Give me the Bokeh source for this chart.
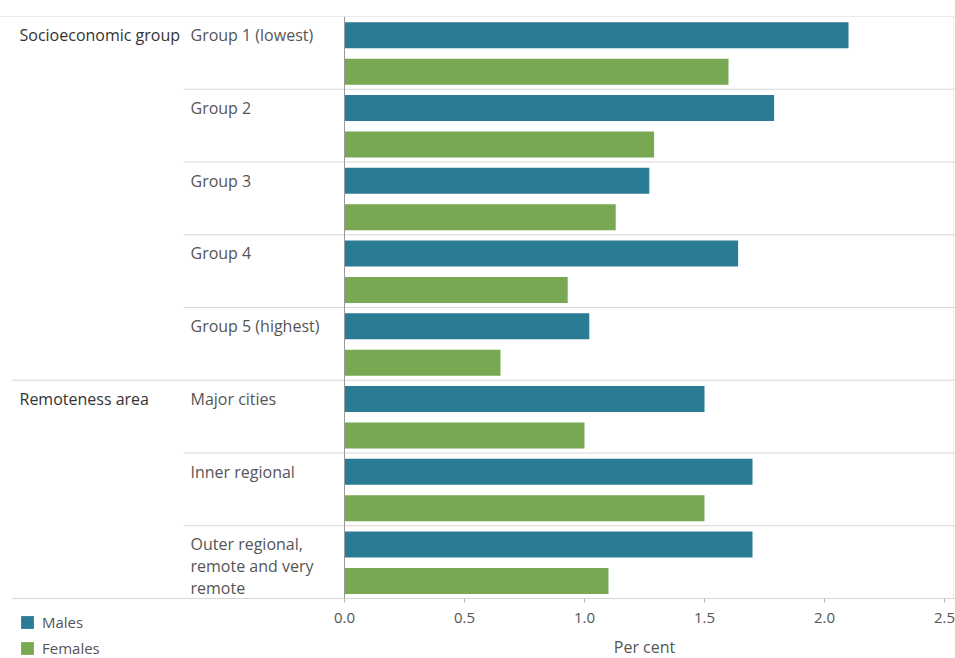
from bokeh.plotting import figure
from bokeh.models import Range1d, FixedTicker, NumeralTickFormatter, ColumnDataSource, Legend, LegendItem
from bokeh.embed import file_html
from bokeh.resources import INLINE
from bokeh.core.properties import value

# ---- data ----
sections = ["Socioeconomic group", "Remoteness area"]
section_start = [0, 5]
groups = ["Group 1 (lowest)", "Group 2", "Group 3", "Group 4", "Group 5 (highest)",
          "Major cities", "Inner regional", "Outer regional,\nremote and very\nremote"]
males = [2.10, 1.79, 1.27, 1.64, 1.02, 1.50, 1.70, 1.70]
females = [1.60, 1.29, 1.13, 0.93, 0.65, 1.00, 1.50, 1.10]
x_ticks = [0.0, 0.5, 1.0, 1.5, 2.0, 2.5]
x_max = 2.5

MALE_C = "#2a7b94"
FEMALE_C = "#79a852"
LINE_C = "#d6d6d6"
FONT = "Open Sans"

n = len(groups)
idx = list(range(n))
male_y = [i + 0.257 for i in idx]
female_y = [i + 0.76 for i in idx]
BAR_H = 0.357

# ---- layout constants (pixels) ----
W, H = 955, 658
TOP_B = 16
ROWS_BOTTOM = 598                  # pixel row where the last category ends
MAX_PX = 944                       # pixel column of the last tick (2.5)
ZERO_PX = 344                      # pixel column of value 0
SCALE = (MAX_PX - ZERO_PX) / x_max  # px per unit
ROW_PX = (ROWS_BOTTOM - TOP_B) / n
Y_BOTTOM = n + (H - ROWS_BOTTOM) / ROW_PX


def px(xp):
    """pixel column -> data x (for the label column left of zero)"""
    return (xp - ZERO_PX) / SCALE


p = figure(width=W, height=H, output_backend="svg", toolbar_location=None,
           x_range=Range1d(px(0), px(W)), y_range=Range1d(Y_BOTTOM, 0),
           y_axis_location=None, min_border_left=0, min_border_right=0,
           min_border_top=TOP_B, min_border_bottom=0)
p.outline_line_color = None
p.xgrid.visible = False
p.ygrid.visible = False

src = ColumnDataSource(dict(y_m=male_y, y_f=female_y, males=males, females=females))
rm = p.hbar(y="y_m", right="males", left=0, height=BAR_H, source=src,
            fill_color=MALE_C, line_color=None)
rf = p.hbar(y="y_f", right="females", left=0, height=BAR_H, source=src,
            fill_color=FEMALE_C, line_color=None)

# separators
right_end = px(W)
sep_full = [0, 5, n]
sep_grp = [i for i in range(1, n) if i not in section_start]
p.segment(x0=[px(0), px(12), px(12)], x1=[right_end] * 3, y0=sep_full, y1=sep_full,
          line_color=LINE_C, line_width=1)
p.segment(x0=[px(183)] * len(sep_grp), x1=[right_end] * len(sep_grp), y0=sep_grp, y1=sep_grp,
          line_color=LINE_C, line_width=1)
p.segment(x0=[0], x1=[0], y0=[0], y1=[n], line_color="#9a9a9a", line_width=1)
p.segment(x0=[px(953)], x1=[px(953)], y0=[0], y1=[n], line_color="#ececec", line_width=1)

# section labels
p.text(x=[px(19)] * len(sections), y=[male_y[s] for s in section_start], text=sections,
       text_font=value(FONT), text_font_size="16px", text_color="#333333",
       text_baseline="middle", text_align="left")
# group labels
single = [i for i in idx if "\n" not in groups[i]]
multi = [i for i in idx if "\n" in groups[i]]
p.text(x=[px(190)] * len(single), y=[male_y[i] for i in single], text=[groups[i] for i in single],
       text_font=value(FONT), text_font_size="16px", text_color="#555555",
       text_baseline="middle", text_align="left")
p.text(x=[px(190)] * len(multi), y=[male_y[i] for i in multi], text=[groups[i] for i in multi],
       text_font=value(FONT), text_font_size="16px", text_color="#555555",
       text_baseline="middle", text_align="left", text_line_height=1.0, y_offset=22)

# x axis, pinned to the bottom of the category rows
xa = p.xaxis[0]
xa.fixed_location = n
xa.bounds = (0, x_max)
xa.ticker = FixedTicker(ticks=x_ticks)
xa.formatter = NumeralTickFormatter(format="0.0")
xa.axis_line_color = LINE_C
xa.major_tick_line_color = "#b5b5b5"
xa.major_tick_out = 4
xa.major_tick_in = 0
xa.minor_tick_line_color = None
xa.major_label_standoff = 10
xa.major_label_text_font = FONT
xa.major_label_text_font_size = "15px"
xa.major_label_text_color = "#555555"
xa.axis_label = "Per cent"
xa.axis_label_standoff = 10
xa.axis_label_text_font = FONT
xa.axis_label_text_font_size = "16px"
xa.axis_label_text_font_style = "normal"
xa.axis_label_text_color = "#555555"

# legend below the label column
leg = Legend(items=[LegendItem(label="Males", renderers=[rm], index=0),
                    LegendItem(label="Females", renderers=[rf], index=0)],
             location=(19, 0), orientation="vertical",
             glyph_width=16, glyph_height=16, label_height=16, spacing=6,
             label_standoff=7, padding=0, margin=0,
             border_line_color=None, background_fill_alpha=0,
             label_text_font=FONT, label_text_font_size="15px",
             label_text_color="#555555")
p.add_layout(leg, "center")

open("out.html", "w").write(file_html(p, INLINE))
